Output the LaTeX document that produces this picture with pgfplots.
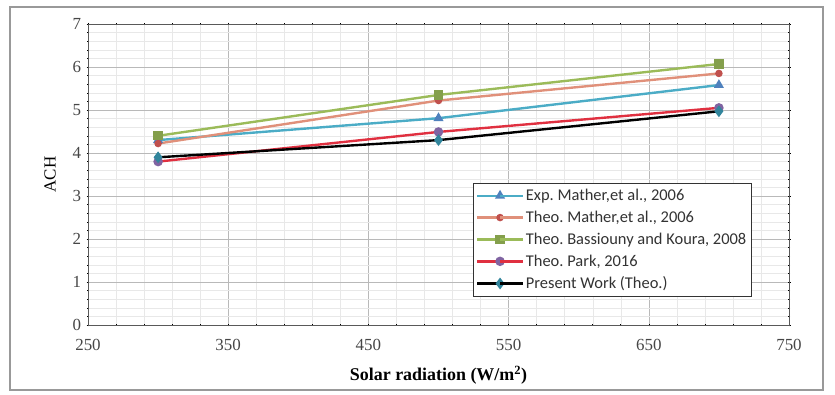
\documentclass[border=0pt]{standalone}
\usepackage{pgfplots}
\pgfplotsset{compat=1.18}
\usepackage{fontspec}
\setmainfont{Liberation Serif}
\newfontfamily\legfont{Carlito}
\frenchspacing
\definecolor{cblue}{HTML}{4F81BD}
\definecolor{ccyan}{HTML}{4BACC6}
\definecolor{csalmon}{HTML}{E0907A}
\definecolor{cbrown}{HTML}{C0504D}
\definecolor{cgreen}{HTML}{9BBB59}
\definecolor{cred}{HTML}{E03040}
\definecolor{cpurple}{HTML}{8064A2}
\definecolor{cteal}{HTML}{31859C}
\begin{document}
\begin{tikzpicture}
\begin{axis}[
  name=ax,
  scale only axis,
  width=701bp, height=301bp,
  xmin=250, xmax=750, ymin=0, ymax=7,
  xtick={250,350,...,750},
  ytick={0,1,...,7},
  minor x tick num=4,
  minor y tick num=4,
  grid=both,
  major grid style={gray!55, line width=0.5pt},
  minor grid style={gray!18, line width=0.4pt},
  axis line style={gray!70!black, line width=0.8pt},
  tick style={black, line width=0.6pt},
  major tick length=3pt, minor tick length=2pt,
  tick align=center,
  ticklabel style={font=\fontsize{17}{19}\selectfont, text=gray!55!black},
  xticklabel style={yshift=-9bp},
  yticklabel style={xshift=-2bp},
  /pgf/number format/assume math mode=true,
  xlabel={\textbf{Solar radiation (W/m\textsuperscript{2})}},
  ylabel={ACH},
  xlabel style={font=\fontsize{18}{20}\selectfont, yshift=-9bp},
  ylabel style={font=\fontsize{17}{19}\selectfont, yshift=10bp},
  legend style={at={(rel axis cs:0.549,0.472)}, anchor=north west,
    font=\legfont\fontsize{16.5}{18}\selectfont, text=black!80, draw=black!80, line width=0.7pt,
    row sep=5pt, inner xsep=3pt, inner ysep=4pt, cells={anchor=west}},
  legend image code/.code={%
    \draw[#1] (0cm,0cm) -- (0.8cm,0cm);
    \draw[#1] plot coordinates {(0.8cm,0cm)};
    \draw[#1] (0.8cm,0cm) -- (1.6cm,0cm);},
  every axis plot/.append style={line width=2.4pt},
  clip=false,
]
\addplot[color=ccyan, mark=triangle*, mark size=3.5pt, mark options={fill=cblue, draw=cblue}]
  coordinates {(300,4.30) (500,4.81) (700,5.58)};
\addlegendentry{Exp. Mather,et al., 2006}
\addplot[color=csalmon, mark=*, mark size=2.5pt, mark options={fill=cbrown, draw=cbrown}]
  coordinates {(300,4.22) (500,5.22) (700,5.85)};
\addlegendentry{Theo. Mather,et al., 2006}
\addplot[color=cgreen, mark=square*, mark size=3.5pt, mark options={fill=cgreen!85!black, draw=cgreen!85!black}]
  coordinates {(300,4.40) (500,5.35) (700,6.07)};
\addlegendentry{Theo. Bassiouny and Koura, 2008}
\addplot[color=cred, mark=*, mark size=3.5pt, mark options={fill=cpurple, draw=cpurple}]
  coordinates {(300,3.80) (500,4.49) (700,5.05)};
\addlegendentry{Theo. Park, 2016}
\addplot[color=black, mark=diamond*, mark size=4pt, mark options={fill=cteal, draw=cteal}]
  coordinates {(300,3.90) (500,4.30) (700,4.97)};
\addlegendentry{Present Work (Theo.)}
\end{axis}
\draw[gray!80, line width=1.6pt] ([xshift=-78bp,yshift=-65bp]ax.south west) rectangle ([xshift=34bp,yshift=17bp]ax.north east);
\path ([xshift=-88bp,yshift=-70bp]ax.south west) rectangle ([xshift=46bp,yshift=24bp]ax.north east);
\end{tikzpicture}
\end{document}
